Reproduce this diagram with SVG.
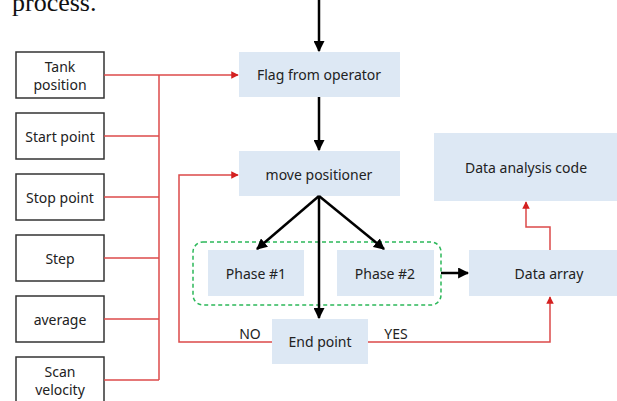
<svg xmlns="http://www.w3.org/2000/svg" width="617" height="401" viewBox="0 0 617 401">
  <style>
    .param rect { fill: #ffffff; stroke: #333333; stroke-width: 1.5; }
    .step rect { fill: #dde8f4; }
    text { font-family: "Noto Sans", "Liberation Sans", sans-serif; font-size: 14px; fill: #222222; text-anchor: middle; }
    .caption { font-family: "Liberation Serif", serif; font-size: 26px; fill: #111111; text-anchor: start; }
    .flow { fill: none; stroke: #000000; stroke-width: 2.5; }
    .link { fill: none; stroke: #dc4a4a; stroke-width: 1.5; }
    .group { fill: none; stroke: #2db85a; stroke-width: 1.5; stroke-dasharray: 4 3; }
  </style>
  <defs>
    <marker id="ahBlack" viewBox="0 0 10 10" refX="9" refY="5" markerWidth="4.4" markerHeight="4.4" orient="auto" markerUnits="strokeWidth">
      <path d="M0,0 L10,5 L0,10 Z" fill="#000000"/>
    </marker>
    <marker id="ahRed" viewBox="0 0 10 10" refX="9" refY="5" markerWidth="5" markerHeight="5" orient="auto" markerUnits="strokeWidth">
      <path d="M0,0 L10,5 L0,10 Z" fill="#d42020"/>
    </marker>
  </defs>

  <rect width="617" height="401" fill="#ffffff"/>

  <!-- tail of the preceding paragraph -->
  <text class="caption" x="12" y="11">process.</text>

  <!-- parameter inputs -->
  <g id="tank-position" class="param">
    <rect x="16" y="52" width="88" height="46"/>
    <text x="60" y="72">Tank</text>
    <text x="60" y="90">position</text>
  </g>
  <g id="start-point" class="param">
    <rect x="16" y="113" width="88" height="46"/>
    <text x="60" y="142">Start point</text>
  </g>
  <g id="stop-point" class="param">
    <rect x="16" y="174" width="88" height="46"/>
    <text x="60" y="203">Stop point</text>
  </g>
  <g id="step" class="param">
    <rect x="16" y="235" width="88" height="46"/>
    <text x="60" y="264">Step</text>
  </g>
  <g id="average" class="param">
    <rect x="16" y="296" width="88" height="46"/>
    <text x="60" y="325">average</text>
  </g>
  <g id="scan-velocity" class="param">
    <rect x="16" y="357" width="88" height="48"/>
    <text x="60" y="377">Scan</text>
    <text x="60" y="395">velocity</text>
  </g>

  <!-- process steps -->
  <g id="flag-from-operator" class="step">
    <rect x="239" y="52" width="161" height="45"/>
    <text x="319" y="80">Flag from operator</text>
  </g>
  <g id="move-positioner" class="step">
    <rect x="239" y="151" width="161" height="45"/>
    <text x="319" y="180">move positioner</text>
  </g>
  <g id="phase-group">
    <rect class="group" x="193" y="242" width="248" height="63" rx="10" ry="10"/>
  </g>
  <g id="phase-1" class="step">
    <rect x="208" y="250" width="96" height="46"/>
    <text x="256" y="279">Phase #1</text>
  </g>
  <g id="phase-2" class="step">
    <rect x="337" y="250" width="97" height="46"/>
    <text x="385" y="279">Phase #2</text>
  </g>
  <g id="end-point" class="step">
    <rect x="272" y="319" width="96" height="45"/>
    <text x="320" y="347">End point</text>
  </g>
  <g id="data-array" class="step">
    <rect x="469" y="250" width="160" height="46"/>
    <text x="549" y="279">Data array</text>
  </g>
  <g id="data-analysis-code" class="step">
    <rect x="434" y="133" width="184" height="68"/>
    <text x="526" y="173">Data analysis code</text>
  </g>

  <!-- connectors -->
  <g id="connectors">
    <!-- main flow -->
    <line class="flow" x1="319" y1="0" x2="319" y2="51" marker-end="url(#ahBlack)"/>
    <line class="flow" x1="319" y1="97" x2="319" y2="150" marker-end="url(#ahBlack)"/>
    <line class="flow" x1="319" y1="196" x2="257" y2="249" marker-end="url(#ahBlack)"/>
    <line class="flow" x1="319" y1="196" x2="384" y2="249" marker-end="url(#ahBlack)"/>
    <line class="flow" x1="319" y1="196" x2="319" y2="318" marker-end="url(#ahBlack)"/>
    <line class="flow" x1="441" y1="273" x2="468" y2="273" marker-end="url(#ahBlack)"/>

    <!-- parameter bus -->
    <line class="link" x1="104" y1="75" x2="159" y2="75"/>
    <line class="link" x1="104" y1="136" x2="159" y2="136"/>
    <line class="link" x1="104" y1="197" x2="159" y2="197"/>
    <line class="link" x1="104" y1="258" x2="159" y2="258"/>
    <line class="link" x1="104" y1="319" x2="159" y2="319"/>
    <line class="link" x1="104" y1="380" x2="159" y2="380"/>
    <line class="link" x1="159" y1="75" x2="159" y2="380"/>
    <line class="link" x1="159" y1="75" x2="238" y2="75" marker-end="url(#ahRed)"/>

    <!-- NO: loop back to positioner -->
    <polyline class="link" points="272,342 179,342 179,175 238,175" marker-end="url(#ahRed)"/>
    <!-- YES: on to data array -->
    <polyline class="link" points="368,342 550,342 550,297" marker-end="url(#ahRed)"/>
    <!-- data array to analysis -->
    <polyline class="link" points="550,250 550,227 526,227 526,202" marker-end="url(#ahRed)"/>
  </g>

  <!-- branch labels -->
  <text x="250" y="339">NO</text>
  <text x="396" y="339">YES</text>
</svg>
